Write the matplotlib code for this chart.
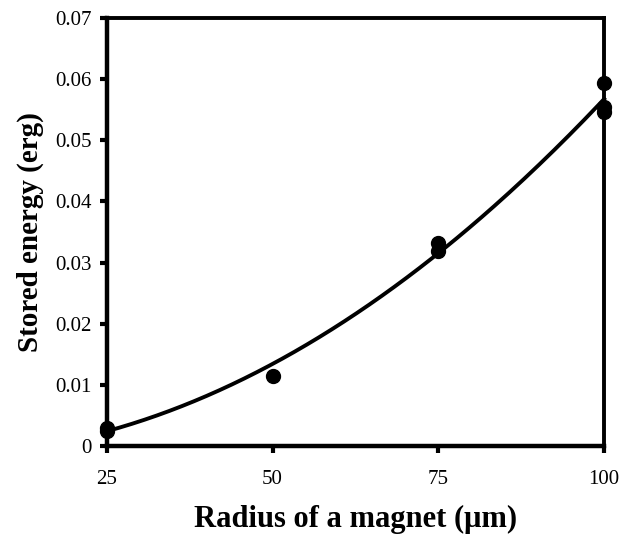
import numpy as np
import matplotlib
matplotlib.use("Agg")
import matplotlib.pyplot as plt

# Data
radius = [25, 25, 50, 75, 75, 100, 100, 100]
energy = [0.0025, 0.0030, 0.0114, 0.0332, 0.0319, 0.0594, 0.0555, 0.0547]
x_ticks = [25, 50, 75, 100]
y_ticks = [0, 0.01, 0.02, 0.03, 0.04, 0.05, 0.06, 0.07]
y_tick_labels = ["0", "0.01", "0.02", "0.03", "0.04", "0.05", "0.06", "0.07"]

plt.rcParams["font.family"] = ["Liberation Serif", "DejaVu Serif"]

fig = plt.figure(figsize=(6.32, 5.37), dpi=100)
ax = fig.add_axes([0.169, 0.1695, 0.787, 0.797])

# quadratic trend line through the points
coef = np.polyfit(radius, energy, 2)
xs = np.linspace(25, 100, 200)
ax.plot(xs, np.polyval(coef, xs), color="black", lw=2.8, clip_on=False)
ax.plot(radius, energy, "o", color="black", ms=10, clip_on=False, zorder=5)

ax.set_xlim(25, 100)
ax.set_ylim(0, 0.07)
ax.set_xticks(x_ticks)
ax.set_xticklabels([str(t) for t in x_ticks])
ax.set_yticks(y_ticks)
ax.set_yticklabels(y_tick_labels)

for side in ["left", "bottom"]:
    ax.spines[side].set_linewidth(3.2)
for side in ["top", "right"]:
    ax.spines[side].set_linewidth(2.8)

ax.tick_params(axis="y", direction="out", length=5, width=3, labelsize=15, pad=6)
ax.tick_params(axis="x", direction="out", length=5, width=3, labelsize=15, pad=12)

ax.set_xlabel("Radius of a magnet (\u03bcm)", fontsize=22, fontweight="bold", labelpad=12)
ax.set_ylabel("Stored energy (erg)", fontsize=21, fontweight="bold", labelpad=8)

fig.savefig("out.png", dpi=100)
